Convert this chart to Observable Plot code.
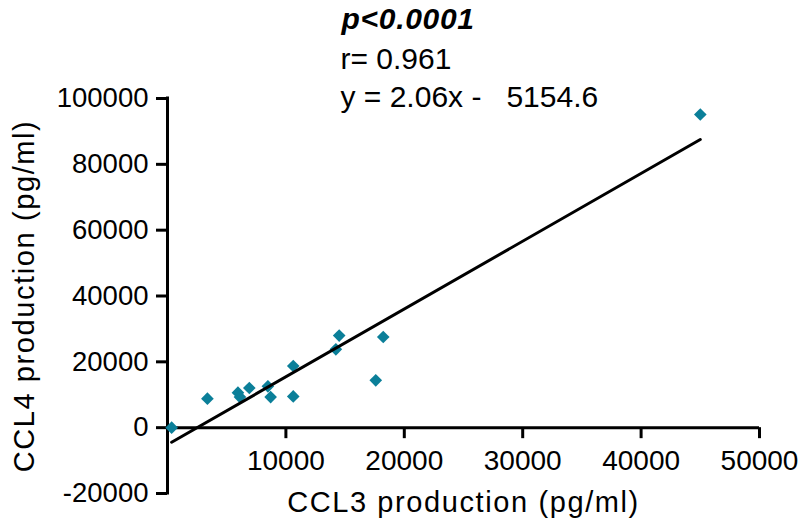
<!DOCTYPE html>
<html>
<head>
<meta charset="utf-8">
<script src="https://cdn.jsdelivr.net/npm/d3@7"></script>
<script src="https://cdn.jsdelivr.net/npm/@observablehq/plot@0.6"></script>
<style>
  html, body { margin: 0; padding: 0; background: #fff; }
  #chart svg { display: block; font-family: "Liberation Sans", Arial, Helvetica, sans-serif; }
</style>
</head>
<body>
<div id="chart"></div>
<script>
// CCL3 (x) vs CCL4 (y) production, pg/ml
const ccl3 = [350, 3370, 5950, 6120, 6910, 8480, 8710, 10620, 10620, 14220, 14500, 17590, 18220, 45000];
const ccl4 = [0, 8800, 10640, 9300, 12040, 12550, 9300, 18730, 9500, 23800, 27970, 14380, 27540, 95150];

// fit shown on the chart
const slope = 2.06;
const intercept = -5154.6;

// tick labels
const xTicks = [10000, 20000, 30000, 40000, 50000];
const yTicks = [-20000, 0, 20000, 40000, 60000, 80000, 100000];

// annotation lines
const noteP = "p<0.0001";
const noteR = "r= 0.961";
const noteEq = "y = 2.06x - \u00a0\u00a05154.6";
const xTitle = "CCL3 production (pg/ml)";
const yTitle = "CCL4 production (pg/ml)";

const points = ccl3.map((x, i) => ({x, y: ccl4[i]}));
const [xLo, xHi] = d3.extent(ccl3);
const fitLine = [xLo, xHi].map(x => ({x, y: slope * x + intercept}));

const color = "#0B7F99";
const ink = "#000";

const chart = Plot.plot({
  width: 803,
  height: 520,
  marginLeft: 167,
  marginRight: 44,
  marginTop: 98,
  marginBottom: 27,
  style: {fontFamily: '"Liberation Sans", Arial, sans-serif', background: "#fff", color: ink},
  x: {domain: [0, 50000], axis: null},
  y: {domain: [-20000, 100000], axis: null},
  marks: [
    // y axis
    Plot.ruleX([0], {y1: -20000, y2: 100000, stroke: ink, strokeWidth: 3, strokeLinecap: "square"}),
    Plot.ruleY(yTicks, {x1: 0, x2: 0, insetLeft: -11, stroke: ink, strokeWidth: 3}),
    Plot.text(yTicks, {x: 0, y: d => d, text: d => String(d), dx: -19, textAnchor: "end", fontSize: 27.5, fill: ink}),
    // x axis at y = 0
    Plot.ruleY([0], {x1: 0, x2: 50000, stroke: ink, strokeWidth: 3}),
    Plot.ruleX(xTicks, {y1: 0, y2: 0, insetBottom: -11, stroke: ink, strokeWidth: 3}),
    Plot.text(xTicks, {x: d => d, y: 0, text: d => String(d), dy: 33, fontSize: 28, fill: ink}),
    // axis titles
    Plot.text([xTitle], {x: 25000, y: -20000, text: d => d, dy: 9, fontSize: 29, fill: ink}),
    Plot.text([yTitle], {x: 0, y: 40000, text: d => d, dx: -143, rotate: -90, fontSize: 29, fill: ink}),
    // data
    Plot.dot(points, {x: "x", y: "y", symbol: "diamond2", r: 5.7, fill: color, stroke: "none"}),
    Plot.line(fitLine, {x: "x", y: "y", stroke: ink, strokeWidth: 3}),
    // annotation
    Plot.text([noteP], {frameAnchor: "top-left", text: d => d, dx: 174, dy: -69.5, lineAnchor: "bottom", textAnchor: "start", fontSize: 30, fontWeight: "bold", fontStyle: "italic", fill: ink}),
    Plot.text([noteR], {frameAnchor: "top-left", text: d => d, dx: 173, dy: -29.7, lineAnchor: "bottom", textAnchor: "start", fontSize: 30, fill: ink}),
    Plot.text([noteEq], {frameAnchor: "top-left", text: d => d, dx: 173, dy: 8.7, lineAnchor: "bottom", textAnchor: "start", fontSize: 30, fill: ink})
  ]
});
// slightly wider lettering on the titles, as in the reference
d3.select(chart).selectAll("text")
  .filter(function () { return this.textContent === xTitle || this.textContent === yTitle; })
  .style("letter-spacing", "1.6px");
d3.select(chart).selectAll("text")
  .filter(function () { return this.textContent === noteP; })
  .style("letter-spacing", "0.7px");
document.getElementById("chart").appendChild(chart);
</script>
</body>
</html>
